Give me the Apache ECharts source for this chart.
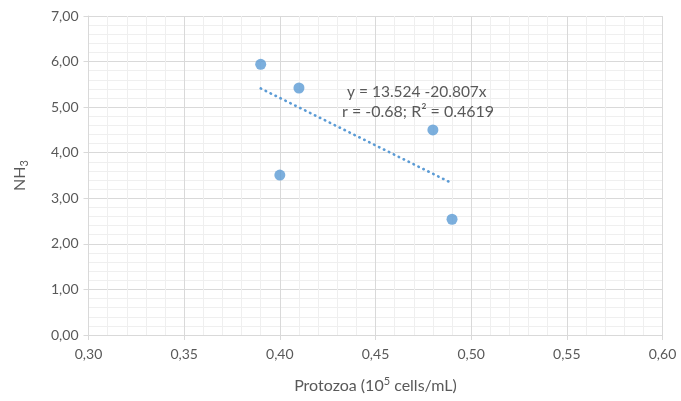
<!DOCTYPE html>
<html><head><meta charset="utf-8">
<script src="https://cdn.jsdelivr.net/npm/echarts@6/dist/echarts.min.js"></script>
<style>html,body{margin:0;padding:0;background:#fff}#c{width:681px;height:401px}</style>
</head><body><div id="c"></div>
<script>
var protozoa = [0.39, 0.41, 0.40, 0.48, 0.49];
var nh3 = [5.94, 5.42, 3.51, 4.50, 2.54];
var trendX = [0.39, 0.49];
var trendY = [5.41, 3.33];
var xTicks = {min: 0.30, max: 0.60, interval: 0.05};
var yTicks = {min: 0, max: 7, interval: 1};
var eqLine1 = 'y = 13.524 -20.807x';
var eqLine2 = 'r = -0.68; R² = 0.4619';

var FONT = 'Lato, "Open Sans", sans-serif';
var TXT = '#595959';
function fmt(v){ return v.toFixed(2).replace('.', ','); }

var chart = echarts.init(document.getElementById('c'), null, {renderer:'canvas'});
chart.setOption({
  animation: false,
  backgroundColor: '#fff',
  grid: {left: 88.5, right: 18.5, top: 16, bottom: 66, containLabel: false},
  xAxis: {
    type: 'value', min: xTicks.min, max: xTicks.max, interval: xTicks.interval,
    name: 'Protozoa (10{sup|5} cells/mL)', nameLocation: 'middle', nameGap: 41,
    nameTextStyle: {color: TXT, fontSize: 16, fontFamily: FONT,
      rich: {sup: {fontSize: 11, verticalAlign: 'top', padding: [0,0,8,0], color: TXT, fontFamily: FONT}}},
    axisLine: {show: true, lineStyle: {color: '#d9d9d9', width: 1}},
    axisTick: {show: true, length: 5, lineStyle: {color: '#d9d9d9'}},
    axisLabel: {color: TXT, fontSize: 14, fontFamily: FONT, margin: 12, formatter: fmt},
    splitLine: {show: true, lineStyle: {color: '#d9d9d9', width: 1}},
    minorTick: {show: false, splitNumber: 5},
    minorSplitLine: {show: true, lineStyle: {color: '#efefef', width: 1}}
  },
  yAxis: {
    type: 'value', min: yTicks.min, max: yTicks.max, interval: yTicks.interval,
    name: 'NH{sub|3}', nameLocation: 'middle', nameGap: 59, nameRotate: 90,
    nameTextStyle: {color: TXT, fontSize: 16, fontFamily: FONT,
      rich: {sub: {fontSize: 11, verticalAlign: 'bottom', padding: [8,0,0,0], color: TXT, fontFamily: FONT}}},
    axisLine: {show: true, lineStyle: {color: '#d9d9d9', width: 1}},
    axisTick: {show: true, length: 5, lineStyle: {color: '#d9d9d9'}},
    axisLabel: {color: TXT, fontSize: 14, fontFamily: FONT, margin: 10, formatter: fmt},
    splitLine: {show: true, lineStyle: {color: '#d9d9d9', width: 1}},
    minorTick: {show: false, splitNumber: 5},
    minorSplitLine: {show: true, lineStyle: {color: '#efefef', width: 1}}
  },
  series: [
    {
      type: 'line', data: trendX.map(function(x,i){return [x, trendY[i]];}),
      showSymbol: false, symbol: 'none', z: 2,
      lineStyle: {color: '#5b9bd5', width: 2.6, type: [0.5, 5], cap: 'round'}
    },
    {
      type: 'scatter', data: protozoa.map(function(x,i){return [x, nh3[i]];}),
      symbol: 'circle', symbolSize: 11, z: 3,
      itemStyle: {color: '#5b9bd5'}
    }
  ],
  graphic: [
    {type: 'text', left: 347, top: 84, z: 100, style: {text: eqLine1, fill: TXT, font: '15.5px ' + FONT}},
    {type: 'text', left: 342, top: 104, z: 100, style: {text: eqLine2, fill: TXT, font: '16px ' + FONT}}
  ]
});
</script></body></html>
